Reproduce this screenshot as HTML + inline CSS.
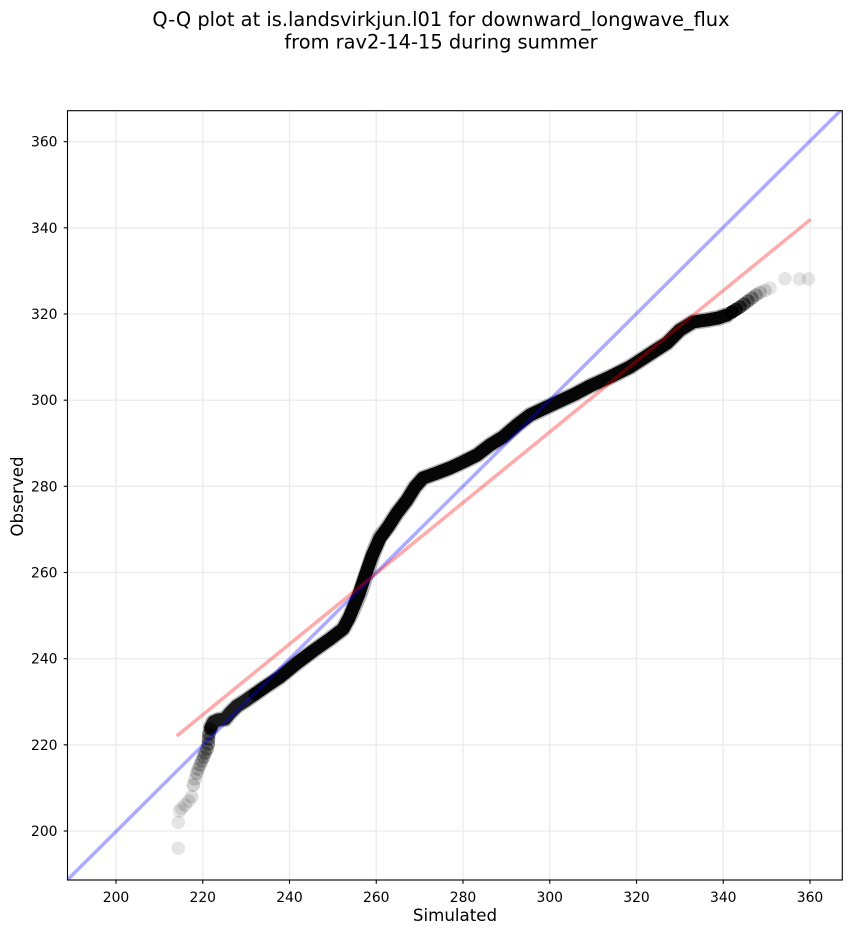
<!DOCTYPE html>
<html>
<head>
<meta charset="utf-8">
<style>
  html, body { margin: 0; padding: 0; background: #ffffff; }
  svg { display: block; }
  text { font-family: "DejaVu Sans", "Liberation Sans", sans-serif; fill: #000; }
</style>
</head>
<body>
<svg width="851" height="934" viewBox="0 0 851 934" xmlns="http://www.w3.org/2000/svg">
  <defs>
    <clipPath id="ax">
      <rect x="67.5" y="110.7" width="774.8" height="769.3"/>
    </clipPath>
  </defs>
  <rect x="0" y="0" width="851" height="934" fill="#ffffff"/>

  <!-- Title -->
  <text x="441" y="26" font-size="19.4" text-anchor="middle">Q-Q plot at is.landsvirkjun.l01 for downward_longwave_flux</text>
  <text x="441" y="48.3" font-size="19.4" text-anchor="middle">from rav2-14-15 during summer</text>

  <!-- Grid -->
  <g stroke="#ebebeb" stroke-width="1.3" clip-path="url(#ax)">
    <line x1="116" y1="110.7" x2="116" y2="880"/>
    <line x1="202.75" y1="110.7" x2="202.75" y2="880"/>
    <line x1="289.5" y1="110.7" x2="289.5" y2="880"/>
    <line x1="376.25" y1="110.7" x2="376.25" y2="880"/>
    <line x1="463" y1="110.7" x2="463" y2="880"/>
    <line x1="549.75" y1="110.7" x2="549.75" y2="880"/>
    <line x1="636.5" y1="110.7" x2="636.5" y2="880"/>
    <line x1="723.25" y1="110.7" x2="723.25" y2="880"/>
    <line x1="810" y1="110.7" x2="810" y2="880"/>
    <line x1="67.5" y1="831" x2="842.3" y2="831"/>
    <line x1="67.5" y1="744.83" x2="842.3" y2="744.83"/>
    <line x1="67.5" y1="658.67" x2="842.3" y2="658.67"/>
    <line x1="67.5" y1="572.5" x2="842.3" y2="572.5"/>
    <line x1="67.5" y1="486.33" x2="842.3" y2="486.33"/>
    <line x1="67.5" y1="400.17" x2="842.3" y2="400.17"/>
    <line x1="67.5" y1="314" x2="842.3" y2="314"/>
    <line x1="67.5" y1="227.83" x2="842.3" y2="227.83"/>
    <line x1="67.5" y1="141.67" x2="842.3" y2="141.67"/>
  </g>

  <!-- Scatter points -->
  <g clip-path="url(#ax)">
    <!-- lower tail -->
    <g fill="#000">
      <circle cx="178.3" cy="848.3" r="6.8" fill-opacity="0.1"/>
      <circle cx="178.3" cy="822.3" r="6.8" fill-opacity="0.1"/>
      <circle cx="179.5" cy="811" r="6.8" fill-opacity="0.1"/>
      <circle cx="181.5" cy="808.5" r="6.8" fill-opacity="0.1"/>
      <circle cx="185" cy="805" r="6.8" fill-opacity="0.13"/>
      <circle cx="188.5" cy="801" r="6.8" fill-opacity="0.12"/>
      <circle cx="191.7" cy="796.7" r="6.8" fill-opacity="0.14"/>
      <circle cx="193.3" cy="785" r="6.8" fill-opacity="0.18"/>
      <circle cx="195" cy="779" r="6.8" fill-opacity="0.15"/>
      <circle cx="196.7" cy="773.3" r="6.8" fill-opacity="0.2"/>
      <circle cx="198.3" cy="769" r="6.8" fill-opacity="0.2"/>
      <circle cx="200" cy="765" r="6.8" fill-opacity="0.22"/>
      <circle cx="201.7" cy="761" r="6.8" fill-opacity="0.27"/>
      <circle cx="203.5" cy="757" r="6.8" fill-opacity="0.3"/>
      <circle cx="205" cy="753" r="6.8" fill-opacity="0.35"/>
      <circle cx="207" cy="749" r="6.8" fill-opacity="0.38"/>
      <circle cx="208.3" cy="744" r="6.8" fill-opacity="0.42"/>
      <circle cx="208.5" cy="739" r="6.8" fill-opacity="0.45"/>
      <circle cx="209" cy="734" r="6.8" fill-opacity="0.5"/>
      <circle cx="210.5" cy="729" r="6.8" fill-opacity="0.55"/>
    </g>
    <!-- dense band: halo + core -->
    <polyline fill="none" stroke="#000" stroke-opacity="0.3" stroke-width="16" stroke-linejoin="round" stroke-linecap="round"
      points="211,727 213.5,722 218,720 225,719 230,713 237,706 245,701 255,694 265,687 280,677 297,663 313,651 330,639 343,629 350,616 355,605 360,593 366.7,573 373.3,553 380,537 388,527 397,513 407,500 415,487 423,478 437,473 450,468 463,462 477,455 490,445 503,437 517,425 530,415 547,407 560,401 575,394 590,386 610,377 630,367 650,354 667,343 680,330 693,322 707,320 718,318 727,315"/>
    <polyline fill="none" stroke="#000" stroke-opacity="0.85" stroke-width="13" stroke-linejoin="round" stroke-linecap="round"
      points="211,727 213.5,722 218,720 225,719 230,713 237,706 245,701 255,694"/>
    <polyline fill="none" stroke="#000" stroke-opacity="0.97" stroke-width="13" stroke-linejoin="round" stroke-linecap="round"
      points="255,694 265,687 280,677 297,663 313,651 330,639 343,629 349,618 354,606 359,594 365,576 372,556 380,538 388,527 397,513 407,500 415,487 423,478 437,473 450,468 463,462 477,455 490,445 503,437 517,425 530,415 547,407 560,401 575,394 590,386 610,377 630,367 650,354 667,343 680,330 693,322 707,320 718,318 727,315"/>
    <!-- upper tail -->
    <g fill="#000">
      <circle cx="732" cy="312" r="6.8" fill-opacity="0.9"/>
      <circle cx="736" cy="309.5" r="6.8" fill-opacity="0.78"/>
      <circle cx="740" cy="307" r="6.8" fill-opacity="0.65"/>
      <circle cx="744" cy="304" r="6.8" fill-opacity="0.55"/>
      <circle cx="748" cy="301" r="6.8" fill-opacity="0.45"/>
      <circle cx="752" cy="298" r="6.8" fill-opacity="0.36"/>
      <circle cx="756" cy="295" r="6.8" fill-opacity="0.28"/>
      <circle cx="760" cy="292.5" r="6.8" fill-opacity="0.2"/>
      <circle cx="765" cy="290.5" r="6.8" fill-opacity="0.14"/>
      <circle cx="770" cy="288" r="6.8" fill-opacity="0.1"/>
      <circle cx="785" cy="278.7" r="6.8" fill-opacity="0.1"/>
      <circle cx="799.5" cy="279" r="6.8" fill-opacity="0.1"/>
      <circle cx="808.5" cy="279" r="6.8" fill-opacity="0.1"/>
    </g>
  </g>

  <!-- Reference lines -->
  <g clip-path="url(#ax)" fill="none" stroke-width="3.5">
    <line x1="60" y1="887.3" x2="850" y2="101.2" stroke="#0000ff" stroke-opacity="0.33"/>
    <line x1="176.7" y1="736" x2="810.7" y2="219.3" stroke="#ff0000" stroke-opacity="0.33"/>
  </g>

  <!-- Spines -->
  <rect x="67.5" y="110.7" width="774.8" height="769.3" fill="none" stroke="#000" stroke-width="1.1"/>

  <!-- X ticks -->
  <g stroke="#000" stroke-width="1.1">
    <line x1="116" y1="880" x2="116" y2="883.8"/>
    <line x1="202.75" y1="880" x2="202.75" y2="883.8"/>
    <line x1="289.5" y1="880" x2="289.5" y2="883.8"/>
    <line x1="376.25" y1="880" x2="376.25" y2="883.8"/>
    <line x1="463" y1="880" x2="463" y2="883.8"/>
    <line x1="549.75" y1="880" x2="549.75" y2="883.8"/>
    <line x1="636.5" y1="880" x2="636.5" y2="883.8"/>
    <line x1="723.25" y1="880" x2="723.25" y2="883.8"/>
    <line x1="810" y1="880" x2="810" y2="883.8"/>
  </g>
  <g font-size="13.9" text-anchor="middle">
    <text x="116" y="902">200</text>
    <text x="202.75" y="902">220</text>
    <text x="289.5" y="902">240</text>
    <text x="376.25" y="902">260</text>
    <text x="463" y="902">280</text>
    <text x="549.75" y="902">300</text>
    <text x="636.5" y="902">320</text>
    <text x="723.25" y="902">340</text>
    <text x="810" y="902">360</text>
  </g>

  <!-- Y ticks -->
  <g stroke="#000" stroke-width="1.1">
    <line x1="63.7" y1="831" x2="67.5" y2="831"/>
    <line x1="63.7" y1="744.83" x2="67.5" y2="744.83"/>
    <line x1="63.7" y1="658.67" x2="67.5" y2="658.67"/>
    <line x1="63.7" y1="572.5" x2="67.5" y2="572.5"/>
    <line x1="63.7" y1="486.33" x2="67.5" y2="486.33"/>
    <line x1="63.7" y1="400.17" x2="67.5" y2="400.17"/>
    <line x1="63.7" y1="314" x2="67.5" y2="314"/>
    <line x1="63.7" y1="227.83" x2="67.5" y2="227.83"/>
    <line x1="63.7" y1="141.67" x2="67.5" y2="141.67"/>
  </g>
  <g font-size="13.9" text-anchor="end">
    <text x="57.5" y="836">200</text>
    <text x="57.5" y="749.8">220</text>
    <text x="57.5" y="663.7">240</text>
    <text x="57.5" y="577.5">260</text>
    <text x="57.5" y="491.3">280</text>
    <text x="57.5" y="405.2">300</text>
    <text x="57.5" y="319">320</text>
    <text x="57.5" y="232.8">340</text>
    <text x="57.5" y="146.7">360</text>
  </g>

  <!-- Axis labels -->
  <text x="455" y="921" font-size="16.67" text-anchor="middle">Simulated</text>
  <text transform="translate(23,496.5) rotate(-90)" font-size="16.67" text-anchor="middle">Observed</text>
</svg>
</body>
</html>
